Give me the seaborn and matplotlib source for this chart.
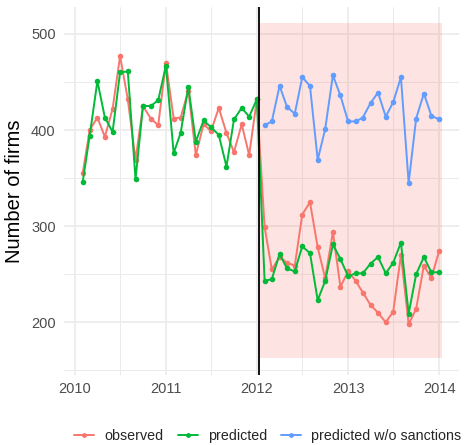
import pandas as pd
import seaborn as sns
import matplotlib.pyplot as plt
import matplotlib.dates as mdates
from matplotlib.lines import Line2D
from matplotlib.patches import Rectangle

# monthly values, Feb 2010 - Jan 2012 and Feb 2012 - Jan 2014
pre_months = pd.date_range("2010-02-01", periods=24, freq="MS")
post_months = pd.date_range("2012-02-01", periods=24, freq="MS")

observed_pre = [355, 400, 413, 393, 422, 477, 432, 369, 425, 412, 405, 470,
                412, 413, 441, 374, 406, 399, 423, 397, 377, 406, 374, 432]
predicted_pre = [346, 394, 451, 413, 398, 460, 461, 349, 425, 425, 431, 467,
                 376, 397, 445, 388, 410, 403, 395, 362, 411, 423, 414, 432]
observed_post = [299, 255, 268, 262, 259, 312, 325, 278, 246, 294, 237, 253,
                 243, 231, 218, 210, 200, 211, 270, 198, 214, 259, 246, 274]
predicted_post = [243, 245, 271, 256, 253, 279, 272, 223, 243, 281, 266, 248,
                  251, 251, 261, 268, 251, 262, 283, 209, 250, 268, 252, 252]
no_sanctions = [405, 409, 446, 424, 417, 455, 446, 369, 401, 457, 436, 409,
                409, 413, 428, 439, 414, 429, 455, 345, 412, 438, 415, 411]

series_names = ["observed", "predicted", "predicted w/o sanctions"]
colors = ["#F8766D", "#00BA38", "#619CFF"]

# sanctions window
sanction_start = pd.Timestamp("2012-01-11")
sanction_end = pd.Timestamp("2014-01-11")
band_low, band_high = 162.5, 511


def build_frame():
    months = pre_months.append(post_months)
    parts = [
        pd.DataFrame({"date": months, "firms": observed_pre + observed_post,
                      "series": series_names[0]}),
        pd.DataFrame({"date": months, "firms": predicted_pre + predicted_post,
                      "series": series_names[1]}),
        pd.DataFrame({"date": post_months, "firms": no_sanctions,
                      "series": series_names[2]}),
    ]
    return pd.concat(parts, ignore_index=True)


df = build_frame()
palette = dict(zip(series_names, colors))

sns.set_theme(style="whitegrid")
plt.rcParams["font.family"] = ["Liberation Sans", "DejaVu Sans"]

fig = plt.figure(figsize=(4.65, 4.45), dpi=100)
ax = fig.add_axes([64 / 465, 1 - 375 / 445, 395 / 465, 368 / 445])

ax.add_patch(Rectangle((mdates.date2num(sanction_start), band_low),
                       mdates.date2num(sanction_end) - mdates.date2num(sanction_start),
                       band_high - band_low, facecolor="#F8766D", alpha=0.2,
                       edgecolor="none", zorder=1))

sns.lineplot(data=df, x="date", y="firms", hue="series", hue_order=series_names,
             palette=palette, marker="o", markersize=4, markeredgewidth=0,
             linewidth=1.4, legend=False, ax=ax, zorder=3)
ax.axvline(sanction_start, color="black", linewidth=1.3, zorder=4)

ax.set_xlim(pd.Timestamp("2009-11-18"), pd.Timestamp("2014-03-22"))
ax.set_ylim(145.2, 528)
ax.xaxis.set_major_locator(mdates.YearLocator())
ax.xaxis.set_major_formatter(mdates.DateFormatter("%Y"))
ax.xaxis.set_minor_locator(mdates.MonthLocator(bymonth=7))
ax.set_yticks([200, 300, 400, 500])
ax.set_yticks([150, 250, 350, 450], minor=True)

ax.set_facecolor("white")
for s in ax.spines.values():
    s.set_visible(False)
ax.grid(which="major", color="#EBEBEB", linewidth=1.2)
ax.grid(which="minor", color="#EBEBEB", linewidth=0.7)
ax.set_axisbelow(True)
ax.tick_params(which="both", length=0, labelsize=10.5, labelcolor="#4D4D4D")
ax.tick_params(axis="y", pad=6)
ax.tick_params(axis="x", pad=5)
ax.set_xlabel("")
ax.set_ylabel("Number of firms", fontsize=14.5, color="black", labelpad=5)

handles = [Line2D([], [], color=c, marker="o", markersize=3.5, markeredgewidth=0,
                  linewidth=1.4) for c in colors]
fig.legend(handles, series_names, loc="center", ncol=3, frameon=False,
           bbox_to_anchor=(268 / 465, 1 - 436 / 445), fontsize=10.3,
           handlelength=1.4, columnspacing=1.0, handletextpad=0.7)

plt.savefig("out.png", dpi=100)
